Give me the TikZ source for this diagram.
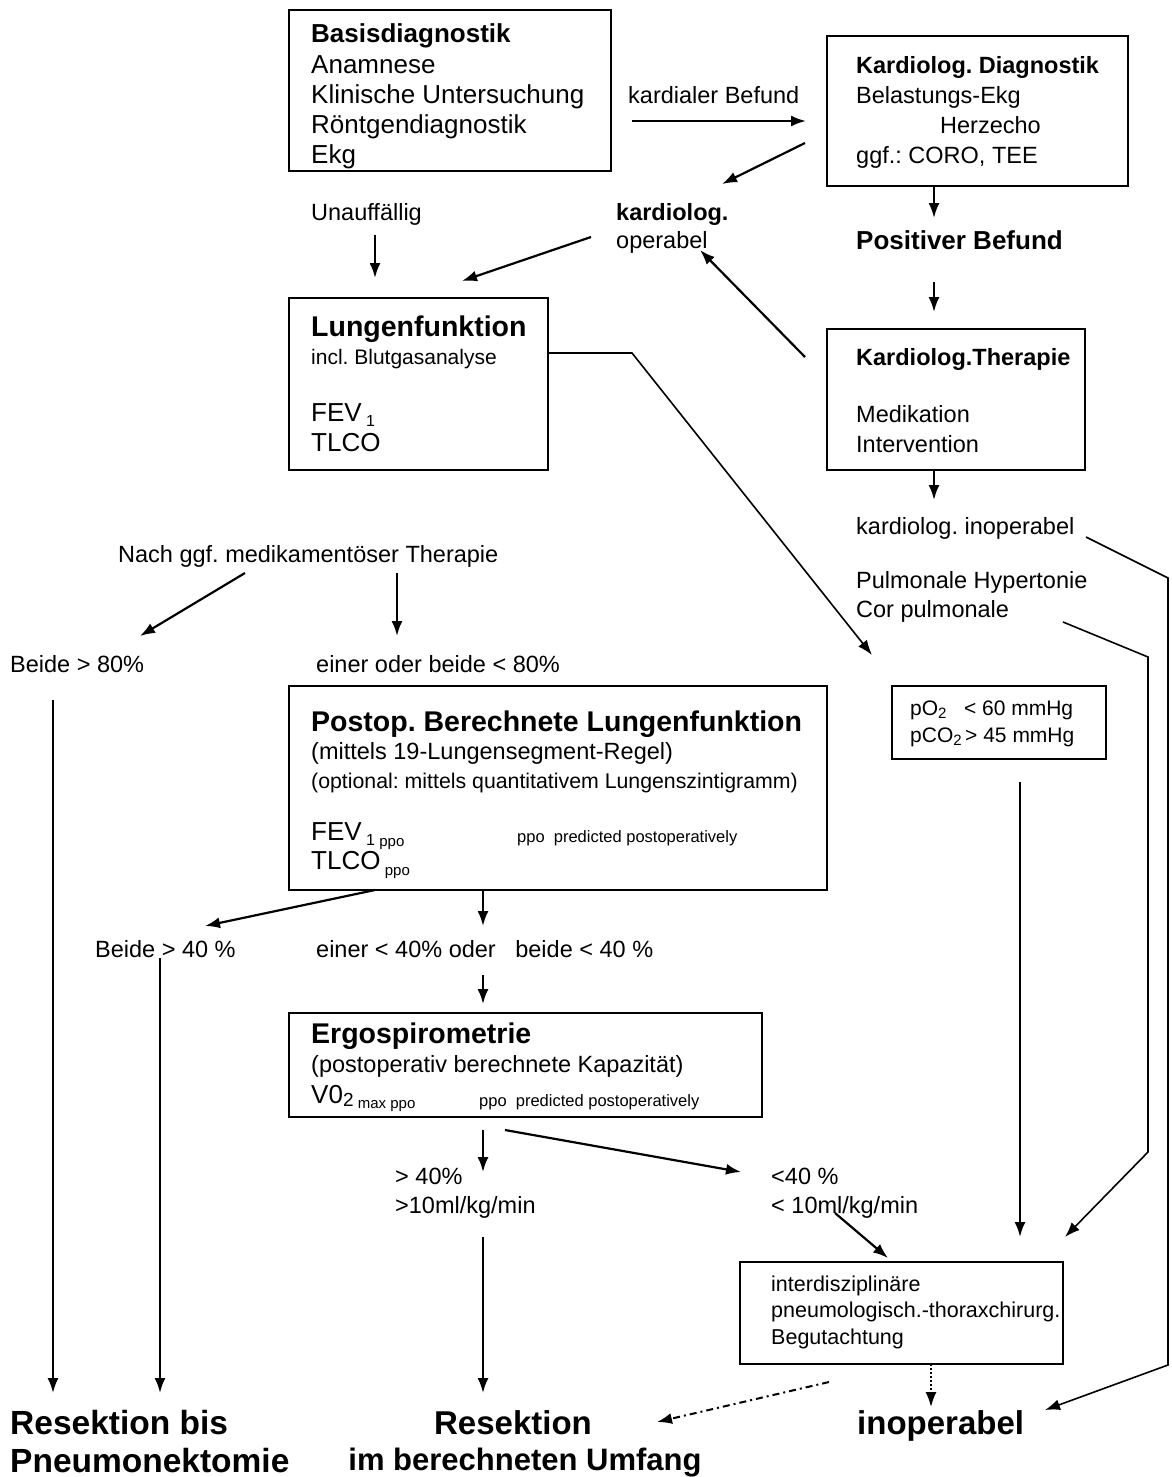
\documentclass[tikz,border=0pt]{standalone}
\usepackage{fontspec}
\setmainfont{Liberation Sans}
\usetikzlibrary{arrows.meta}
\frenchspacing
\newcommand\fs[2]{\fontsize{#1pt}{#2pt}\selectfont}
\newcommand\lowsub[3]{\raisebox{-#1pt}{\fs{#2}{#2}#3}}
\tikzset{
  txt/.style={anchor=base west, inner sep=0pt, align=left},
  boxnode/.style={draw, line width=1.4pt, inner sep=0pt, fill=white},
  tip/.style={-{Latex[length=15pt,width=11pt]}},
  arr/.style={line width=2.2pt, tip},
  plain/.style={line width=1.6pt},
  tbig/.style={font=\fs{26}{30.2}},
  tmid/.style={font=\fs{23.5}{30}},
  tsmall/.style={font=\fs{21.3}{26.5}},
  ttiny/.style={font=\fs{16.5}{20}},
  ttitle/.style={font=\bfseries\fs{28.5}{32}},
  tres/.style={font=\bfseries\fs{33.5}{38}},
}
\begin{document}
\begin{tikzpicture}[x=1pt,y=-1pt]
\useasboundingbox[fill=white] (0,0) rectangle (1171,1477);

% ---------- boxes ----------
\node[boxnode, minimum width=322pt, minimum height=161pt] (basis) at (450,90.5) {};
\node[boxnode, minimum width=301pt, minimum height=150pt] (kdiag) at (977.5,111) {};
\node[boxnode, minimum width=258pt, minimum height=141pt] (kther) at (956,399.5) {};
\node[boxnode, minimum width=259pt, minimum height=172pt] (lungen) at (418.5,384) {};
\node[boxnode, minimum width=538pt, minimum height=204pt] (postop) at (558,788) {};
\node[boxnode, minimum width=214pt, minimum height=73pt] (po2) at (999,722.5) {};
\node[boxnode, minimum width=473pt, minimum height=104pt] (ergo) at (525.5,1065) {};
\node[boxnode, minimum width=323pt, minimum height=102pt] (interd) at (901.5,1313) {};

% ---------- texts (multi-line nodes are placed at the baseline of their last line) ----------
\node[txt, tbig] (basisT) at (311,163.8) {\textbf{Basisdiagnostik}\\Anamnese\\Klinische Untersuchung\\Röntgendiagnostik\\Ekg};
\node[txt, tmid] (kardBef) at (628,104) {kardialer Befund};
\node[txt, tmid] (kdiagT) at (856,164) {\textbf{Kardiolog. Diagnostik}\\Belastungs-Ekg\\\hspace*{84pt}Herzecho\\ggf.: CORO, TEE};
\node[txt, font=\fs{23.5}{28.5}] (kardOp) at (616,248.5) {\textbf{kardiolog.}\\operabel};
\node[txt, tmid] (unauff) at (311,220) {Unauffällig};
\node[txt, font=\bfseries\fs{26}{30}] (posBef) at (856,249) {Positiver Befund};

\node[txt, ttitle] (lungT) at (311,336) {Lungenfunktion};
\node[txt, font=\fs{21}{25}] (lungSub) at (311,364) {incl. Blutgasanalyse};
\node[txt, tbig] (lungVal) at (311,451.2) {FEV\,\lowsub{5}{16}{1}\\TLCO};

\node[txt, font=\bfseries\fs{23.5}{30}] (ktherT) at (856,365) {Kardiolog.Therapie};
\node[txt, tmid] (ktherSub) at (856,452) {Medikation\\Intervention};
\node[txt, tmid] (kinop) at (856,534) {kardiolog. inoperabel};
\node[txt, font=\fs{23.5}{29}] (pulm) at (856,617) {Pulmonale Hypertonie\\Cor pulmonale};

\node[txt, tmid] (nach) at (118,562) {Nach ggf. medikamentöser Therapie};
\node[txt, tmid] (b80) at (10,672) {Beide > 80\%};
\node[txt, tmid] (e80) at (316,672) {einer oder beide < 80\%};

\node[txt, ttitle] (postT) at (311,731) {Postop. Berechnete Lungenfunktion};
\node[txt, tmid] (postS1) at (311,759) {(mittels 19-Lungensegment-Regel)};
\node[txt, tsmall] (postS2) at (311,788) {(optional: mittels quantitativem Lungenszintigramm)};
\node[txt, font=\fs{26}{29}] (postVal) at (311,869) {FEV\,\lowsub{5}{16}{1}\,\lowsub{6}{15}{ppo}\\TLCO\,\lowsub{6}{15}{ppo}};
\node[txt, ttiny] (ppo1) at (517,842) {ppo\ \ predicted postoperatively};

\node[txt, font=\fs{21}{27}] (po2T) at (910,742) {pO\lowsub{3}{15}{2}\ \ \ < 60 mmHg\\pCO\lowsub{3}{15}{2}\,> 45 mmHg};

\node[txt, tmid] (b40) at (95,957) {Beide > 40 \%};
\node[txt, tmid] (e40) at (316,957) {einer < 40\% oder\ \ \ beide < 40 \%};

\node[txt, ttitle] (ergoT) at (311,1043) {Ergospirometrie};
\node[txt, tmid] (ergoS) at (311,1072) {(postoperativ berechnete Kapazität)};
\node[txt, font=\fs{26}{29}] (ergoV) at (311,1103) {V0\lowsub{3}{19}{2}\,\lowsub{5}{15}{max ppo}};
\node[txt, ttiny] (ppo2) at (479,1106) {ppo\ \ predicted postoperatively};

\node[txt, font=\fs{23.5}{29}] (g40) at (395,1213) {> 40\%\\>10ml/kg/min};
\node[txt, font=\fs{23.5}{29}] (l40) at (771,1213) {<40 \%\\< 10ml/kg/min};

\node[txt, font=\fs{21.5}{26.5}] (interT) at (771,1344) {interdisziplinäre\\pneumologisch.-thoraxchirurg.\\Begutachtung};

\node[txt, tres] (res1) at (10,1472) {Resektion bis\\Pneumonektomie};
\node[anchor=base, inner sep=0pt, font=\bfseries\fs{33}{38}] (res2a) at (513,1434) {Resektion};
\node[anchor=base, inner sep=0pt, font=\bfseries\fs{31}{36}] (res2b) at (525,1470) {im berechneten Umfang};
\node[txt, font=\bfseries\fs{33}{38}] (inop) at (857,1434) {inoperabel};

% ---------- connector end points ----------
\coordinate (c1s) at (632,121);   \coordinate (c1e) at (806,121);
\coordinate (c2s) at (805,143);   \coordinate (c2e) at (722,184);
\coordinate (c3s) at (591,237);   \coordinate (c3e) at (462,281);
\coordinate (c4s) at (375,235);   \coordinate (c4e) at (375,278);
\coordinate (c5s) at (934,187);   \coordinate (c5e) at (934,218);
\coordinate (c6s) at (934,282);   \coordinate (c6e) at (934,312);
\coordinate (c7s) at (805,357);   \coordinate (c7e) at (700,250);
\coordinate (c8s) at (934,471);   \coordinate (c8e) at (934,500);
\coordinate (l1s) at (548,353);   \coordinate (l1k) at (632,353);   \coordinate (l1e) at (872,655);
\coordinate (l2s) at (1086,537);  \coordinate (l2k) at (1168,578);  \coordinate (l2m) at (1168,1365); \coordinate (l2e) at (1045,1410);
\coordinate (l3s) at (1063,622);  \coordinate (l3k) at (1148,657);  \coordinate (l3m) at (1148,1152); \coordinate (l3e) at (1065,1237);
\coordinate (c9s) at (245,573);   \coordinate (c9e) at (140,636);
\coordinate (c10s) at (397,573);  \coordinate (c10e) at (397,636);
\coordinate (c11s) at (53,700);   \coordinate (c11e) at (53,1393);
\coordinate (c12s) at (375,890);  \coordinate (c12e) at (205,926);
\coordinate (c13s) at (483,890);  \coordinate (c13e) at (483,926);
\coordinate (c14s) at (160,958);  \coordinate (c14e) at (160,1393);
\coordinate (c15s) at (483,975);  \coordinate (c15e) at (483,1004);
\coordinate (c16s) at (1020,782); \coordinate (c16e) at (1020,1237);
\coordinate (c17s) at (483,1130); \coordinate (c17e) at (483,1172);
\coordinate (c18s) at (505,1130); \coordinate (c18e) at (741,1172);
\coordinate (c19s) at (835,1213); \coordinate (c19e) at (888,1258);
\coordinate (c20s) at (483,1237); \coordinate (c20e) at (483,1393);
\coordinate (c21s) at (931,1364); \coordinate (c21e) at (931,1407);
\coordinate (c22s) at (829,1382); \coordinate (c22e) at (657,1422);

% ---------- connectors ----------
\draw[arr] (c1s) -- (c1e);
\draw[arr] (c2s) -- (c2e);
\draw[arr] (c3s) -- (c3e);
\draw[arr] (c4s) -- (c4e);
\draw[arr] (c5s) -- (c5e);
\draw[arr] (c6s) -- (c6e);
\draw[arr] (c7s) -- (c7e);
\draw[arr] (c8s) -- (c8e);
\draw[plain, tip] (l1s) -- (l1k) -- (l1e);
\draw[plain, tip] (l2s) -- (l2k) -- (l2m) -- (l2e);
\draw[plain, tip] (l3s) -- (l3k) -- (l3m) -- (l3e);
\draw[arr] (c9s) -- (c9e);
\draw[arr] (c10s) -- (c10e);
\draw[arr] (c11s) -- (c11e);
\draw[arr] (c12s) -- (c12e);
\draw[arr] (c13s) -- (c13e);
\draw[arr] (c14s) -- (c14e);
\draw[arr] (c15s) -- (c15e);
\draw[arr] (c16s) -- (c16e);
\draw[arr] (c17s) -- (c17e);
\draw[arr] (c18s) -- (c18e);
\draw[arr] (c19s) -- (c19e);
\draw[arr] (c20s) -- (c20e);
\draw[line width=1.8pt, dash pattern=on 1.5pt off 2.5pt, tip] (c21s) -- (c21e);
\draw[line width=2pt, dash pattern=on 7pt off 4pt on 2pt off 4pt, tip] (c22s) -- (c22e);
\end{tikzpicture}
\end{document}
